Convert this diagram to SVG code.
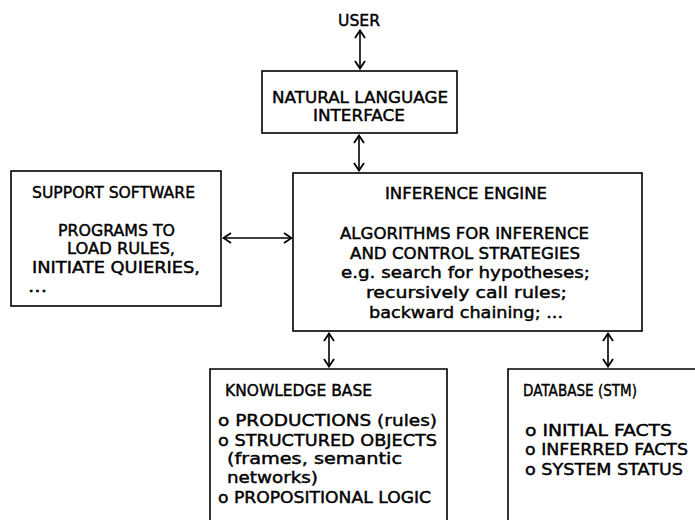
<svg xmlns="http://www.w3.org/2000/svg" width="695" height="520" viewBox="0 0 695 520">
<defs>
<marker id="ah" viewBox="0 0 12 12" refX="11" refY="6" markerWidth="12" markerHeight="12" markerUnits="userSpaceOnUse" orient="auto-start-reverse">
<path d="M3,1 L10.5,6 L3,11" fill="none" stroke="#000" stroke-width="1.8"/>
</marker>
</defs>
<style>
rect, path.box { fill: none; stroke: #000; stroke-width: 1.6; }
text { font-family: "DejaVu Sans", "Liberation Sans", sans-serif; font-size: 16.5px; fill: #000; stroke: #000; stroke-width: 0.45; }
.conn line { stroke: #000; stroke-width: 1.6; marker-start: url(#ah); marker-end: url(#ah); }
</style>
<rect width="695" height="520" fill="#fff" style="stroke:none"/>

<g id="user">
<text x="338" y="26" textLength="42" lengthAdjust="spacingAndGlyphs">USER</text>
</g>

<g id="nli">
<rect x="262" y="71" width="195" height="62"/>
<text x="272" y="103" textLength="176" lengthAdjust="spacingAndGlyphs">NATURAL LANGUAGE</text>
<text x="313" y="121" textLength="92" lengthAdjust="spacingAndGlyphs">INTERFACE</text>
</g>

<g id="support">
<rect x="11" y="171" width="210" height="135"/>
<text x="32" y="198" textLength="163" lengthAdjust="spacingAndGlyphs">SUPPORT SOFTWARE</text>
<text x="58" y="236" textLength="117" lengthAdjust="spacingAndGlyphs">PROGRAMS TO</text>
<text x="67" y="254" textLength="108" lengthAdjust="spacingAndGlyphs">LOAD RULES,</text>
<text x="32" y="273" textLength="168" lengthAdjust="spacingAndGlyphs">INITIATE QUIERIES,</text>
<text x="28" y="292" textLength="19" lengthAdjust="spacingAndGlyphs">...</text>
</g>

<g id="engine">
<rect x="293" y="173" width="349" height="158"/>
<text x="385" y="199" textLength="162" lengthAdjust="spacingAndGlyphs">INFERENCE ENGINE</text>
<text x="340" y="239" textLength="249" lengthAdjust="spacingAndGlyphs">ALGORITHMS FOR INFERENCE</text>
<text x="350" y="259" textLength="230" lengthAdjust="spacingAndGlyphs">AND CONTROL STRATEGIES</text>
<text x="341" y="278" textLength="249" lengthAdjust="spacingAndGlyphs">e.g. search for hypotheses;</text>
<text x="366" y="298" textLength="201" lengthAdjust="spacingAndGlyphs">recursively call rules;</text>
<text x="369" y="318" textLength="194" lengthAdjust="spacingAndGlyphs">backward chaining; ...</text>
</g>

<g id="kb">
<path class="box" d="M210,521 V369 H447 V521"/>
<text x="225" y="396" textLength="147" lengthAdjust="spacingAndGlyphs">KNOWLEDGE BASE</text>
<text x="218" y="426" textLength="219" lengthAdjust="spacingAndGlyphs">o PRODUCTIONS (rules)</text>
<text x="218" y="446" textLength="219" lengthAdjust="spacingAndGlyphs">o STRUCTURED OBJECTS</text>
<text x="227" y="464" textLength="175" lengthAdjust="spacingAndGlyphs">(frames, semantic</text>
<text x="227" y="483" textLength="91" lengthAdjust="spacingAndGlyphs">networks)</text>
<text x="218" y="503" textLength="213" lengthAdjust="spacingAndGlyphs">o PROPOSITIONAL LOGIC</text>
</g>

<g id="db">
<path class="box" d="M508,521 V369 H696"/>
<text x="523" y="396" textLength="114" lengthAdjust="spacingAndGlyphs">DATABASE (STM)</text>
<text x="525" y="436" textLength="147" lengthAdjust="spacingAndGlyphs">o INITIAL FACTS</text>
<text x="525" y="455" textLength="163" lengthAdjust="spacingAndGlyphs">o INFERRED FACTS</text>
<text x="525" y="475" textLength="158" lengthAdjust="spacingAndGlyphs">o SYSTEM STATUS</text>
</g>

<g class="conn" id="connectors">
<line x1="360" y1="30" x2="360" y2="69"/>
<line x1="359" y1="135" x2="359" y2="171"/>
<line x1="223" y1="238" x2="292" y2="238"/>
<line x1="329" y1="333" x2="329" y2="367"/>
<line x1="608" y1="333" x2="608" y2="367"/>
</g>
</svg>
